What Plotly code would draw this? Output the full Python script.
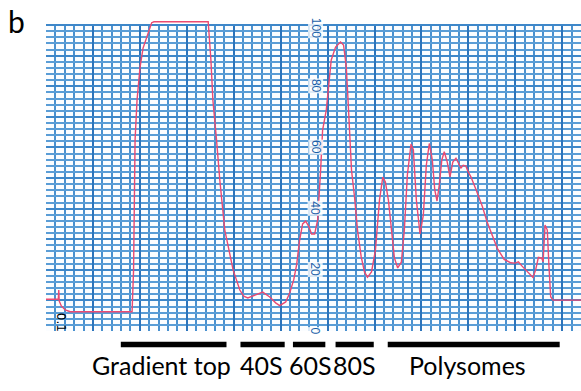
import plotly.graph_objects as go

# Trace (x in chart-paper divisions, y in % of full scale)
trace_x = [0, 1.31, 1.36, 1.41, 1.63, 2.05, 2.58, 9.17, 9.33, 9.49, 9.70, 10.02, 10.34, 10.73, 11.26, 11.5,
           17.28, 17.57, 17.78, 18.17, 18.52, 19.05, 19.48, 19.94, 20.65, 21.07, 21.5, 22.24, 23.09, 23.84,
           24.47, 24.90, 25.54, 25.96, 26.39, 26.7, 27.02, 27.34, 27.66, 27.98, 28.30, 28.62, 28.94, 29.26,
           29.47, 29.86, 30.39, 30.85, 31.38, 31.70, 31.99, 32.18, 32.34, 32.55, 32.87, 33.19, 33.58, 33.93,
           34.25, 34.68, 35.10, 35.53, 35.88, 36.16, 36.48, 36.80, 37.12, 37.47, 37.86, 38.18, 38.50, 38.89,
           39.14, 39.46, 39.85, 40.2, 40.52, 40.84, 41.16, 41.42, 41.66, 41.90, 42.17, 42.43, 42.75, 43.04,
           43.34, 43.68, 43.92, 44.21, 44.45, 44.74, 44.98, 45.27, 45.83, 46.50, 47.0, 47.57, 48.07, 48.81,
           49.52, 49.98, 50.33, 50.72, 51.12, 51.47, 51.89, 52.16, 52.46, 52.82, 52.96, 53.17, 53.41, 53.59,
           53.77, 54.01, 57]
trace_y = [10.4, 10.4, 13.4, 9.8, 8.2, 6.9, 6.3, 6.3, 19.9, 62.4, 75.5, 86.3, 92.5, 96.1, 100.8, 101.1,
           101.1, 88.6, 75.5, 62.4, 49.3, 33.0, 26.5, 19.9, 13.4, 11.4, 10.8, 11.8, 12.7, 11.1,
           9.2, 8.3, 9.5, 12.4, 16.7, 21.6, 29.7, 35.0, 35.9, 34.3, 31.7, 31.7, 36.3, 52.6,
           65.7, 72.2, 88.6, 92.8, 94.5, 93.5, 86.4, 75.5, 64.1, 52.6, 43.8, 33.0, 24.3, 19.3,
           17.6, 19.3, 26.5, 42.8, 50.3, 48.7, 42.8, 33.0, 23.9, 20.6, 22.5, 33.0, 51.0, 61.1,
           59.2, 42.8, 31.7, 37.9, 54.2, 61.3, 55.9, 46.1, 42.5, 47.7, 55.9, 58.6, 55.2, 50.4,
           55.2, 56.5, 54.9, 53.3, 54.2, 53.9, 52.0, 50.4, 46.1, 40.6, 35.6, 30.8, 27.1, 23.4,
           22.3, 22.2, 22.6, 21.2, 19.9, 18.6, 17.5, 19.9, 24.1, 23.8, 22.6, 34.6, 33.0, 21.0,
           11.2, 10.1, 10.1]

# Scale labels printed on the chart paper
scale_values = [100, 80, 60, 40, 20, 0]
scale_labels = ["100", "80", "60", "40", "20", "0"]
scale_x = 28.7

# Fraction bars (start, end in divisions) and labels
fraction_names = ["Gradient top", "40S", "60S", "80S", "Polysomes"]
bar_start = [7.97, 20.72, 26.31, 30.85, 36.41]
bar_end = [19.23, 25.43, 29.76, 34.92, 54.73]
label_x = [12.3, 23.0, 28.2, 32.9, 44.9]

fig = go.Figure()
fig.add_trace(go.Scatter(x=trace_x, y=trace_y, mode="lines",
                         line=dict(color="#ea4a72", width=1.4), hoverinfo="skip"))

shapes = [dict(type="rect", xref="x", yref="y", x0=0, x1=57, y0=100.35, y1=102.5,
               fillcolor="white", line=dict(width=0), layer="between")]
for s, e in zip(bar_start, bar_end):
    shapes.append(dict(type="rect", xref="x", yref="paper", x0=s, x1=e,
                       y0=-0.0522, y1=-0.0343, fillcolor="black", line=dict(width=0)))

annotations = []
for v, t in zip(scale_values, scale_labels):
    annotations.append(dict(x=scale_x, y=v if v < 100 else 99, xref="x", yref="y", text=t,
                            textangle=90, showarrow=False,
                            font=dict(family="Liberation Sans Narrow, Arial", size=12, color="#1a5fa8"),
                            bgcolor="rgba(255,255,255,0.8)", borderpad=0))
for name, lx in zip(fraction_names, label_x):
    annotations.append(dict(x=lx, y=-0.109, xref="x", yref="paper", text=name, showarrow=False,
                            xanchor="center", yanchor="middle",
                            font=dict(family="Lato", size=25, color="black")))
annotations.append(dict(x=-0.056, y=0.992, xref="paper", yref="paper", text="b", showarrow=False,
                        xanchor="center", yanchor="middle", font=dict(family="Lato", size=30, color="black")))
annotations.append(dict(x=1.6, y=3.0, xref="x", yref="y", text="0.1", textangle=90, showarrow=False,
                        font=dict(family="DejaVu Sans", size=12, color="black")))

fig.update_layout(
    width=581, height=391,
    margin=dict(l=46, r=0, t=19, b=60),
    paper_bgcolor="white", plot_bgcolor="#fbfdff",
    showlegend=False,
    shapes=shapes, annotations=annotations,
    xaxis=dict(range=[0, 57], tick0=0, dtick=5, showgrid=True, gridcolor="#2c74bb", gridwidth=1.8,
               minor=dict(dtick=1, showgrid=True, gridcolor="#4a91cf", gridwidth=1.6),
               showticklabels=False, zeroline=False, showline=False, ticks=""),
    yaxis=dict(range=[0, 102], tick0=0, dtick=10, showgrid=True, gridcolor="#3e87c9", gridwidth=1.6,
               minor=dict(dtick=2, showgrid=True, gridcolor="#5a9dd6", gridwidth=1.5),
               showticklabels=False, zeroline=False, showline=False, ticks=""),
)

fig.write_html("out.html")
